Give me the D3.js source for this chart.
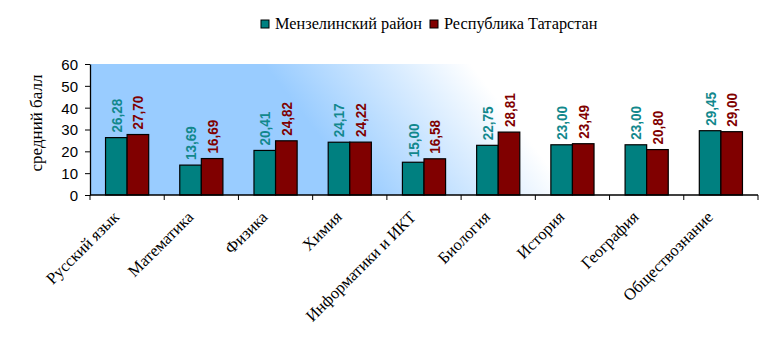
<!DOCTYPE html>
<html><head><meta charset="utf-8">
<script src="https://cdn.jsdelivr.net/npm/d3@7"></script>
<style>body{margin:0;background:#fff}svg{display:block}</style>
</head><body>
<script>
const categories = ["Русский язык","Математика","Физика","Химия","Информатики и ИКТ","Биология","История","География","Обществознание"];
const seriesNames = ["Мензелинский район","Республика Татарстан"];
const menzelinsk = [26.28,13.69,20.41,24.17,15.00,22.75,23.00,23.00,29.45];
const tatarstan = [27.70,16.69,24.82,24.22,16.58,28.81,23.49,20.80,29.00];
const yTicks = [0,10,20,30,40,50,60];
const colors = ["#008080","#800000"];
const labelColors = ["#12888c","#800000"];

const W = 783, H = 348;
const m = {left:90, right:25, top:64, bottom:153};
const svg = d3.select("body").append("svg").attr("width",W).attr("height",H);
const defs = svg.append("defs");
const g0 = defs.append("linearGradient").attr("id","bg").attr("gradientUnits","userSpaceOnUse")
  .attr("x1",330).attr("y1",150).attr("x2",460).attr("y2",50);
g0.append("stop").attr("offset",0).attr("stop-color","#99ccff");
g0.append("stop").attr("offset",1).attr("stop-color","#ffffff");

const x0 = d3.scaleBand().domain(categories).range([m.left, W-m.right]);
const x1 = d3.scaleBand().domain(seriesNames).range([0, x0.bandwidth()]).paddingOuter(0.72).paddingInner(0);
const y = d3.scaleLinear().domain([0,60]).range([H-m.bottom, m.top]);

svg.append("rect").attr("x",m.left).attr("y",m.top).attr("width",W-m.right-m.left).attr("height",H-m.bottom-m.top).attr("fill","url(#bg)");

const data = categories.map((c,i)=>({c, v:[menzelinsk[i], tatarstan[i]]}));
const grp = svg.append("g").selectAll("g").data(data).join("g").attr("transform",d=>`translate(${x0(d.c)},0)`);
grp.selectAll("rect").data(d=>d.v.map((v,k)=>({v,k}))).join("rect")
  .attr("x",d=>x1(seriesNames[d.k])).attr("y",d=>y(d.v))
  .attr("width",x1.bandwidth()).attr("height",d=>y(0)-y(d.v))
  .attr("fill",d=>colors[d.k]).attr("stroke","#000").attr("stroke-width",1.2);
grp.selectAll("text").data(d=>d.v.map((v,k)=>({v,k}))).join("text")
  .attr("transform",d=>`translate(${x1(seriesNames[d.k])+x1.bandwidth()/2+5.5},${y(d.v)-5}) rotate(-90) scale(1,1.12)`)
  .attr("font-family","Liberation Sans, Arial, sans-serif").attr("font-weight","bold").attr("font-size",13.5)
  .attr("fill",d=>labelColors[d.k])
  .text(d=>d.v.toFixed(2).replace(".",","));

// axes
const yAxis = svg.append("g").attr("transform",`translate(${m.left},0)`)
  .call(d3.axisLeft(y).tickValues(yTicks).tickSize(5).tickSizeOuter(0).tickPadding(7));
yAxis.select(".domain").attr("stroke","#000").attr("stroke-width",1.3);
yAxis.selectAll(".tick line").attr("stroke","#000");
yAxis.selectAll("text").attr("font-family","Liberation Sans, Arial, sans-serif").attr("font-size",15).attr("fill","#000").attr("dy","0.36em");

const xb = svg.append("g").attr("transform",`translate(0,${y(0)})`);
xb.append("line").attr("x1",m.left).attr("x2",W-m.right).attr("stroke","#000").attr("stroke-width",1.3);
const bounds = categories.map(c=>x0(c)).concat([x0(categories[categories.length-1])+x0.bandwidth()]);
xb.selectAll("line.t").data(bounds).join("line").attr("class","t")
  .attr("x1",d=>d).attr("x2",d=>d).attr("y1",0).attr("y2",5).attr("stroke","#000");
xb.selectAll("text").data(categories).join("text")
  .attr("transform",c=>`translate(${x0(c)+x0.bandwidth()/2-7},${23}) rotate(-45)`)
  .attr("text-anchor","end").attr("font-family","Liberation Serif, Times New Roman, serif")
  .attr("font-size",16.5).attr("fill","#000").text(c=>c);

svg.append("text").attr("transform",`translate(42,123) rotate(-90)`)
  .attr("text-anchor","middle").attr("font-family","Liberation Serif, Times New Roman, serif")
  .attr("font-size",17).text("средний балл");

// legend
const legX = [261, 430];
const leg = svg.append("g").selectAll("g").data(seriesNames).join("g")
  .attr("transform",(d,i)=>`translate(${legX[i]},20)`);
leg.append("rect").attr("width",8).attr("height",8).attr("fill",(d,i)=>colors[i]).attr("stroke","#000").attr("stroke-width",1);
leg.append("text").attr("x",14).attr("y",9).attr("font-family","Liberation Serif, Times New Roman, serif")
  .attr("font-size",16.3).text(d=>d);
</script>
</body></html>
